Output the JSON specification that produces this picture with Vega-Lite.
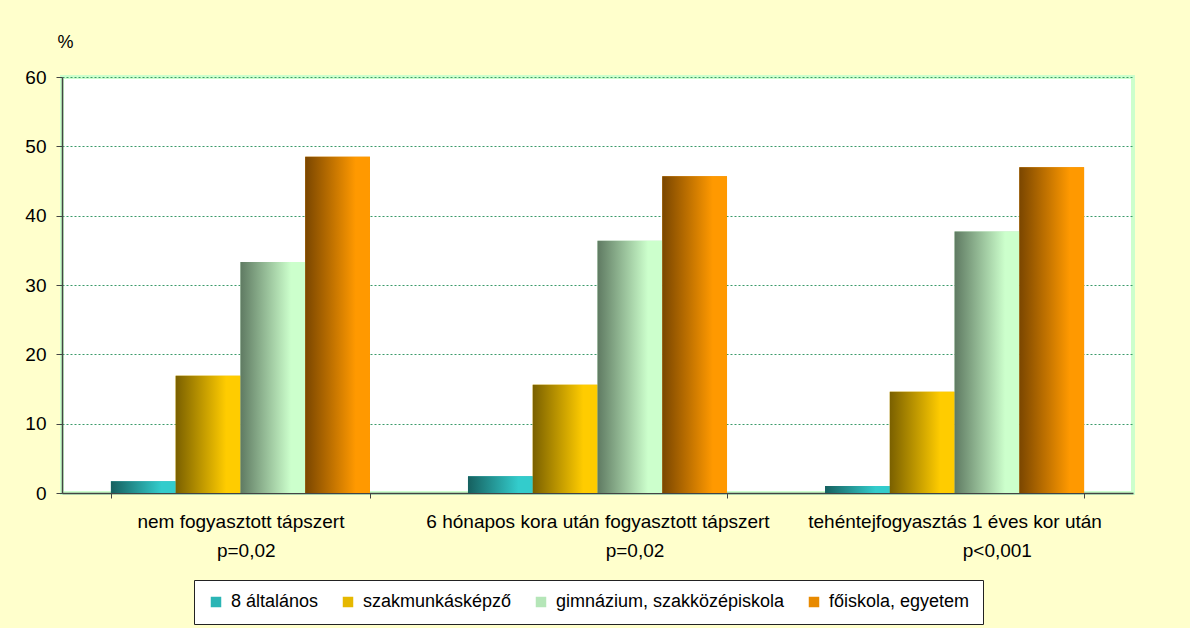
{
  "$schema": "https://vega.github.io/schema/vega-lite/v6.json",
  "autosize": {"type": "none"},
  "width": 1071,
  "height": 416,
  "padding": {"left": 62, "top": 77, "right": 57, "bottom": 135},
  "background": "#FFFFCC",
  "config": {
    "font": "Liberation Sans",
    "view": {"fill": "white", "stroke": "#CCFFCC", "strokeWidth": 4}
  },
  "data": {
    "values": [
      {"csoport": "nem fogyasztott tápszert|\u200b\u2007p=0,02", "vegzettseg": "8 általános", "szazalek": 1.7},
      {"csoport": "nem fogyasztott tápszert|\u200b\u2007p=0,02", "vegzettseg": "szakmunkásképző", "szazalek": 16.9},
      {"csoport": "nem fogyasztott tápszert|\u200b\u2007p=0,02", "vegzettseg": "gimnázium, szakközépiskola", "szazalek": 33.3},
      {"csoport": "nem fogyasztott tápszert|\u200b\u2007p=0,02", "vegzettseg": "főiskola, egyetem", "szazalek": 48.5},
      {"csoport": "6 hónapos kora után fogyasztott tápszert|\u200b\u2007\u2007\u2007\u2007\u2007\u2007\u2007p=0,02", "vegzettseg": "8 általános", "szazalek": 2.4},
      {"csoport": "6 hónapos kora után fogyasztott tápszert|\u200b\u2007\u2007\u2007\u2007\u2007\u2007\u2007p=0,02", "vegzettseg": "szakmunkásképző", "szazalek": 15.6},
      {"csoport": "6 hónapos kora után fogyasztott tápszert|\u200b\u2007\u2007\u2007\u2007\u2007\u2007\u2007p=0,02", "vegzettseg": "gimnázium, szakközépiskola", "szazalek": 36.4},
      {"csoport": "6 hónapos kora után fogyasztott tápszert|\u200b\u2007\u2007\u2007\u2007\u2007\u2007\u2007p=0,02", "vegzettseg": "főiskola, egyetem", "szazalek": 45.7},
      {"csoport": "tehéntejfogyasztás 1 éves kor után|\u200b\u2007\u2007\u2007\u2007\u2007\u2007\u2007\u2007p<0,001", "vegzettseg": "8 általános", "szazalek": 1.0},
      {"csoport": "tehéntejfogyasztás 1 éves kor után|\u200b\u2007\u2007\u2007\u2007\u2007\u2007\u2007\u2007p<0,001", "vegzettseg": "szakmunkásképző", "szazalek": 14.6},
      {"csoport": "tehéntejfogyasztás 1 éves kor után|\u200b\u2007\u2007\u2007\u2007\u2007\u2007\u2007\u2007p<0,001", "vegzettseg": "gimnázium, szakközépiskola", "szazalek": 37.7},
      {"csoport": "tehéntejfogyasztás 1 éves kor után|\u200b\u2007\u2007\u2007\u2007\u2007\u2007\u2007\u2007p<0,001", "vegzettseg": "főiskola, egyetem", "szazalek": 47.0}
    ]
  },
  "encoding": {
    "x": {
      "field": "csoport",
      "type": "nominal",
      "sort": null,
      "scale": {"paddingInner": 0.2745, "paddingOuter": 0.137},
      "axis": {
        "title": null,
        "labelAngle": 0,
        "labelExpr": "split(datum.label, '|')",
        "labelFontSize": 19,
        "labelColor": "black",
        "labelLineHeight": 29,
        "labelPadding": 14,
        "labelLimit": 500,
        "tickBand": "extent",
        "tickSize": 5,
        "tickColor": "#444444",
        "domainColor": "#444444",
        "domainWidth": 1.5,
        "grid": false
      }
    },
    "xOffset": {
      "field": "vegzettseg",
      "type": "nominal",
      "scale": {
        "domain": ["8 általános", "szakmunkásképző", "gimnázium, szakközépiskola", "főiskola, egyetem"],
        "paddingInner": 0,
        "paddingOuter": 0
      }
    },
    "y": {
      "field": "szazalek",
      "type": "quantitative",
      "scale": {"domain": [0, 60]},
      "axis": {
        "values": [0, 10, 20, 30, 40, 50, 60],
        "title": "%",
        "titleAngle": 0,
        "titleX": 3,
        "titleY": -35,
        "titleAlign": "center",
        "titleBaseline": "middle",
        "titleFontSize": 18,
        "titleFontWeight": "normal",
        "titleColor": "black",
        "labelFontSize": 19,
        "labelColor": "black",
        "tickSize": 6,
        "tickColor": "#444444",
        "domainColor": "#444444",
        "domainWidth": 1.5,
        "labelPadding": 10,
        "gridColor": "#3A9A6A",
        "gridDash": [2, 2],
        "gridWidth": 1
      }
    }
  },
  "layer": [
    {
      "mark": {"type": "bar"},
      "encoding": {
        "color": {
          "field": "vegzettseg",
          "type": "nominal",
          "scale": {
            "domain": ["8 általános", "szakmunkásképző", "gimnázium, szakközépiskola", "főiskola, egyetem"],
            "range": ["#2BB5B5", "#E6B800", "#B5E6B8", "#E88A00"]
          },
          "legend": {
            "orient": "none",
            "legendX": 132,
            "legendY": 503,
            "direction": "horizontal",
            "columns": 4,
            "title": null,
            "fillColor": "white",
            "strokeColor": "#222222",
            "padding": 13,
            "symbolType": "square",
            "symbolSize": 110,
            "symbolStrokeWidth": 0,
            "labelFontSize": 18,
            "labelColor": "black",
            "labelOffset": 6,
            "labelLimit": 400,
            "columnPadding": 20,
            "gridAlign": "none"
          }
        }
      }
    },
    {
      "transform": [{"filter": "datum.vegzettseg === '8 általános'"}],
      "mark": {
        "type": "bar",
        "color": {"gradient": "linear", "x1": 0, "y1": 0, "x2": 1, "y2": 0, "stops": [{"offset": 0, "color": "#16605F"}, {"offset": 0.78, "color": "#33CCCC"}, {"offset": 1, "color": "#33CCCC"}]}
      }
    },
    {
      "transform": [{"filter": "datum.vegzettseg === 'szakmunkásképző'"}],
      "mark": {
        "type": "bar",
        "color": {"gradient": "linear", "x1": 0, "y1": 0, "x2": 1, "y2": 0, "stops": [{"offset": 0, "color": "#7A6000"}, {"offset": 0.78, "color": "#FFCC00"}, {"offset": 1, "color": "#FFCC00"}]}
      }
    },
    {
      "transform": [{"filter": "datum.vegzettseg === 'gimnázium, szakközépiskola'"}],
      "mark": {
        "type": "bar",
        "color": {"gradient": "linear", "x1": 0, "y1": 0, "x2": 1, "y2": 0, "stops": [{"offset": 0, "color": "#5F7A62"}, {"offset": 0.78, "color": "#CCFFCC"}, {"offset": 1, "color": "#CCFFCC"}]}
      }
    },
    {
      "transform": [{"filter": "datum.vegzettseg === 'főiskola, egyetem'"}],
      "mark": {
        "type": "bar",
        "color": {"gradient": "linear", "x1": 0, "y1": 0, "x2": 1, "y2": 0, "stops": [{"offset": 0, "color": "#7A4600"}, {"offset": 0.78, "color": "#FF9900"}, {"offset": 1, "color": "#FF9900"}]}
      }
    }
  ]
}
